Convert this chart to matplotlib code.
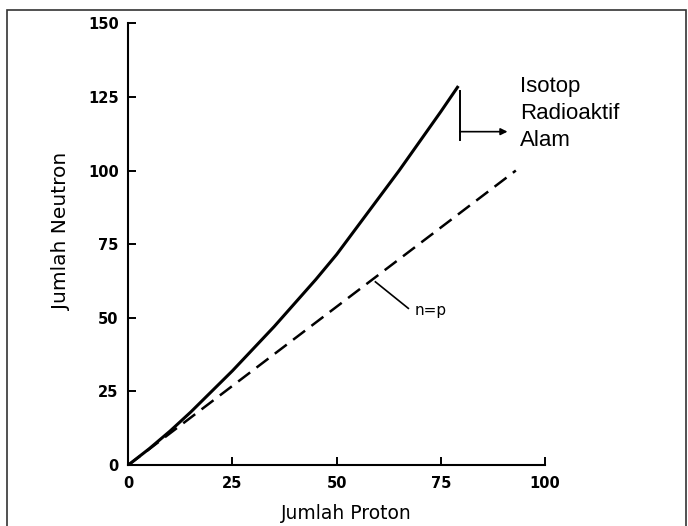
import numpy as np
import matplotlib.pyplot as plt
from matplotlib.patches import Rectangle

# jalur kestabilan inti
proton = [0, 5, 10, 15, 20, 25, 30, 35, 40, 45, 50, 55, 60, 65, 70, 75, 79.2]
neutron = [0, 5.5, 11.5, 18, 25, 32, 39.5, 47, 55, 63, 71.5, 81, 90.5, 100, 110, 120, 128.7]

# garis n = p
np_x = [0, 93]
np_y = [0, 100]

x_ticks = [0, 25, 50, 75, 100]
y_ticks = [0, 25, 50, 75, 100, 125, 150]

fig = plt.figure(figsize=(6.88, 5.26), dpi=100)
fig.patch.set_facecolor('white')

# bingkai luar
fig.patches.append(Rectangle((7 / 688, -0.05), (686 - 7) / 688, 1.05 - 10 / 526,
                             transform=fig.transFigure, fill=False,
                             edgecolor='#333333', lw=1.2))

ax = fig.add_axes([128.3 / 688, 61 / 526, (545 - 128.3) / 688, (465 - 23.3) / 526])

ax.plot(proton, neutron, color='black', lw=2.2, solid_capstyle='butt')
ax.plot(np_x, np_y, color='black', lw=1.8, dashes=(6, 3.2))

ax.set_xlim(0, 100)
ax.set_ylim(0, 150)
ax.set_xticks(x_ticks)
ax.set_yticks(y_ticks)
ax.tick_params(direction='in', length=6, width=1.4, pad=7)
ax.tick_params(axis='x', pad=8)
for lab in ax.get_xticklabels() + ax.get_yticklabels():
    lab.set_fontweight('bold')
    lab.set_fontsize(10.5)
    lab.set_family('DejaVu Sans')

for side in ['top', 'right']:
    ax.spines[side].set_visible(False)
for side in ['left', 'bottom']:
    ax.spines[side].set_linewidth(1.5)
ax.patch.set_alpha(0)

ax.set_xlabel('Jumlah Proton', fontsize=13.5, family='DejaVu Sans', labelpad=9)
ax.set_ylabel('Jumlah Neutron', fontsize=14.5, family='DejaVu Sans', labelpad=12)
ax.xaxis.label.set_x(0.524)
ax.yaxis.label.set_y(0.53)

# penunjuk n=p
ax.plot([59.3, 67.2], [62.2, 53.2], color='black', lw=1.2)
ax.text(68.8, 52.6, 'n=p', fontsize=11, family='DejaVu Sans', va='center', ha='left')

# penunjuk isotop radioaktif alam
ax.plot([79.6, 79.6], [127.1, 110.4], color='black', lw=1.4, clip_on=False)
ax.annotate('', xy=(91, 113.2), xytext=(79.6, 113.2),
            arrowprops=dict(arrowstyle='-|>', color='black', lw=1.2,
                            mutation_scale=10, shrinkA=0, shrinkB=0),
            annotation_clip=False)
ax.text(94, 132, 'Isotop\nRadioaktif\nAlam', fontsize=16, family='Liberation Sans',
        va='top', ha='left', linespacing=1.38)

fig.savefig('out.png', dpi=100)
